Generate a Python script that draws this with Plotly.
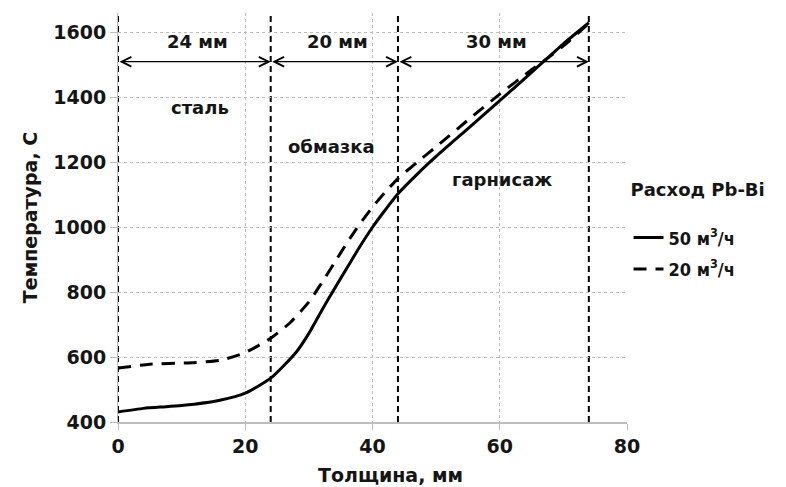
import plotly.graph_objects as go

# Data
thickness_50 = [0, 4, 8, 12, 16, 20, 24, 28, 30, 32, 34, 36, 38, 40, 42, 44, 47, 50, 55, 60, 65, 70, 74]
temp_50 = [431, 442, 448, 455, 467, 489, 535, 615, 673, 743, 810, 875, 940, 1000, 1053, 1103, 1163, 1218, 1304, 1390, 1477, 1565, 1630]

thickness_20 = [0, 5, 11, 16, 20, 24, 27, 30, 32, 34, 36, 38, 40, 42, 44, 47, 50, 55, 60, 65, 68, 71, 74]
temp_20 = [566, 578, 582, 590, 614, 658, 705, 770, 828, 890, 952, 1010, 1062, 1108, 1150, 1200, 1248, 1330, 1410, 1485, 1528, 1575, 1628]

series_names = ["50 м<sup>3</sup>/ч", "20 м<sup>3</sup>/ч"]
boundaries = [0, 24, 44, 74]
layer_widths = ["24 мм", "20 мм", "30 мм"]
layer_names = ["сталь", "обмазка", "гарнисаж"]
layer_name_x = [12.9, 33.6, 60.4]
layer_name_y = [1369, 1249, 1148]
arrow_level = 1510
width_label_level = 1572

x_ticks = [0, 20, 40, 60, 80]
y_ticks = [400, 600, 800, 1000, 1200, 1400, 1600]

FONT = "DejaVu Sans, Liberation Sans, Arial, sans-serif"
NARROW = "DejaVu Sans Condensed, DejaVu Sans, Liberation Sans, sans-serif"
TXT = "#151515"

fig = go.Figure()
fig.add_trace(go.Scatter(
    x=thickness_50, y=temp_50, mode="lines", name=series_names[0],
    legendgroup="a",
    line=dict(color="black", width=3, shape="spline", smoothing=0.6),
))
fig.add_trace(go.Scatter(
    x=thickness_20, y=temp_20, mode="lines", name=series_names[1],
    legendgroup="b",
    line=dict(color="black", width=3, dash="13px,9px", shape="spline", smoothing=0.6),
))

# vertical dashed boundary lines
for b in boundaries:
    fig.add_shape(type="line", xref="x", yref="paper", x0=b, x1=b, y0=0, y1=1,
                  line=dict(color="black", width=2, dash="6px,4px"), layer="below")

annotations = []
# double-headed arrows and width labels
for i in range(len(boundaries) - 1):
    a, b = boundaries[i], boundaries[i + 1]
    annotations.append(dict(
        x=b, y=arrow_level, ax=a, ay=arrow_level, xref="x", yref="y", axref="x", ayref="y",
        showarrow=True, arrowhead=5, startarrowhead=5, arrowside="end+start",
        arrowsize=1.6, startarrowsize=1.6, arrowwidth=1.2, arrowcolor="black", text="",
    ))
    annotations.append(dict(
        x=(a + b) / 2 + 0.5, y=width_label_level, xref="x", yref="y", showarrow=False,
        text=layer_widths[i], font=dict(family=FONT, size=18, color=TXT, weight="bold"),
    ))
    annotations.append(dict(
        x=layer_name_x[i], y=layer_name_y[i], xref="x", yref="y", showarrow=False,
        text=layer_names[i], font=dict(family=FONT, size=18, color=TXT, weight="bold"),
    ))

# x-axis title
annotations.append(dict(
    x=0.536, y=-0.13, xref="paper", yref="paper", showarrow=False,
    xanchor="center", yanchor="middle",
    text="Толщина, мм", font=dict(family=FONT, size=19, color=TXT, weight="bold"),
))

fig.update_layout(
    width=786, height=487,
    margin=dict(l=110, r=167, t=5, b=73),
    paper_bgcolor="white", plot_bgcolor="white",
    font=dict(family=FONT, size=18, color=TXT),
    annotations=annotations,
    showlegend=True,
    legend=dict(
        x=1.003, y=0.61, xanchor="left", yanchor="top",
        traceorder="grouped", tracegroupgap=5,
        title=dict(text="Расход Pb-Bi<br> ", side="top",
                   font=dict(family=FONT, size=18, color=TXT, weight="bold")),
        font=dict(family=NARROW, size=18, color=TXT, weight="bold"),
        itemwidth=30,
    ),
)

fig.update_xaxes(
    range=[0, 80], tickvals=x_ticks, ticktext=[str(v) for v in x_ticks],
    showgrid=True, gridcolor="#bdbdbd", griddash="dot", gridwidth=1,
    showline=True, linecolor="#bdbdbd", linewidth=1.5,
    ticks="outside", ticklen=6, tickcolor="#bdbdbd",
    tickfont=dict(family=FONT, size=19, color=TXT, weight="bold"),
    zeroline=False, automargin=False,
)
fig.update_yaxes(
    range=[400, 1660], tickvals=y_ticks, ticktext=[str(v) for v in y_ticks],
    showgrid=True, gridcolor="#bdbdbd", griddash="dot", gridwidth=1,
    showline=True, linecolor="#bdbdbd", linewidth=1,
    ticks="outside", ticklen=7, tickcolor="#bdbdbd",
    tickfont=dict(family=FONT, size=19, color=TXT, weight="bold"),
    title=dict(text="Температура, С", standoff=10,
               font=dict(family=FONT, size=19, color=TXT, weight="bold")),
    zeroline=False, automargin=False,
)

fig.write_html("out.html")
